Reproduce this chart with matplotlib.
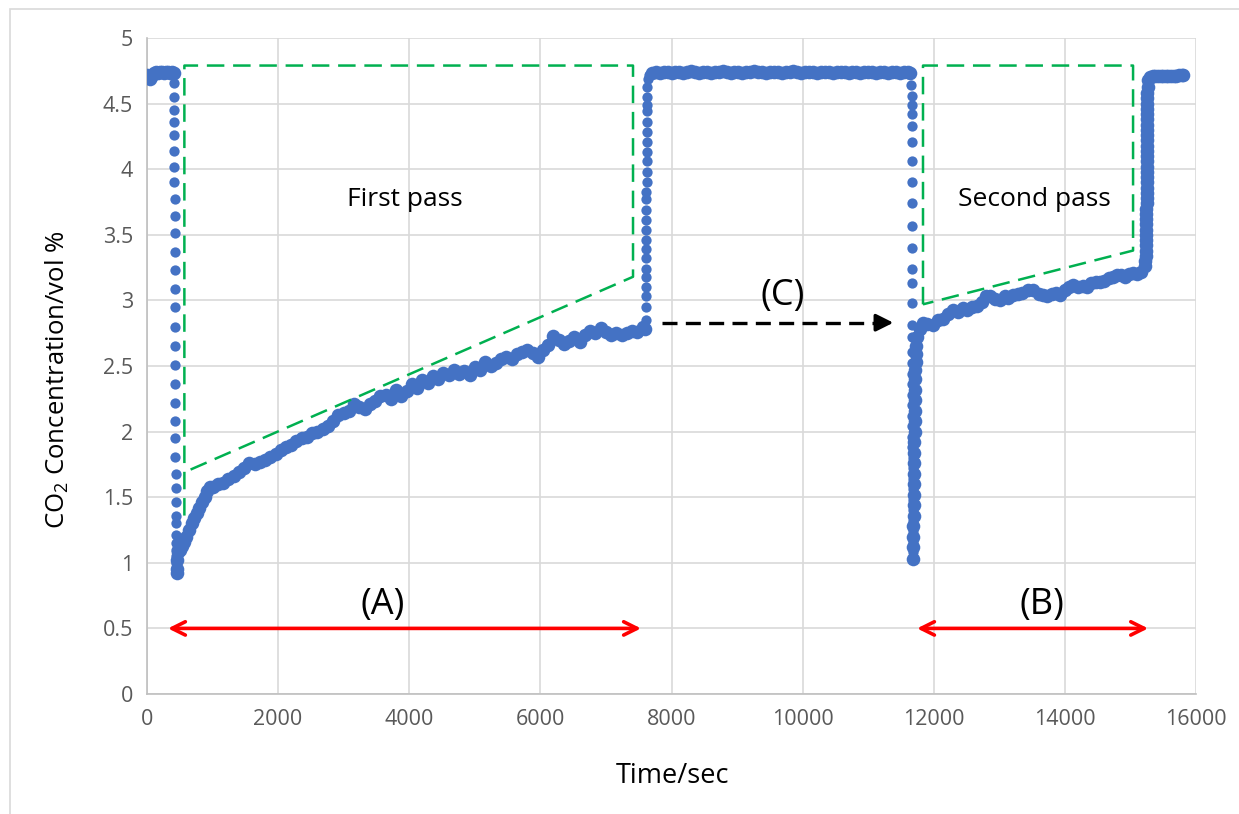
import matplotlib
matplotlib.use("Agg")
import matplotlib.pyplot as plt
from matplotlib.patches import Rectangle

plt.rcParams['font.family'] = ['Open Sans', 'DejaVu Sans']
plt.rcParams['mathtext.fontset'] = 'custom'
plt.rcParams['mathtext.rm'] = 'Open Sans'

# ---- data (time in s, CO2 in vol %) ----
t_start = [0, 20, 40, 60, 80, 110, 140, 170, 200, 230, 260, 290, 320, 350, 380, 405]
c_start = [4.72, 4.70, 4.69, 4.70, 4.72, 4.73, 4.74, 4.73, 4.74, 4.74, 4.73, 4.74, 4.74, 4.73, 4.74, 4.73]

t_drop1 = [412, 413, 414, 415, 416, 417, 418, 419, 420, 421, 422, 423, 424, 425, 426, 427, 428, 429,
           430, 431, 432, 433, 434, 435, 436, 437, 438, 439, 440, 441, 442, 443, 444, 445, 446]
c_drop1 = [4.66, 4.55, 4.45, 4.36, 4.26, 4.14, 4.02, 3.90, 3.77, 3.64, 3.51, 3.37, 3.23, 3.09, 2.95,
           2.80, 2.65, 2.51, 2.36, 2.22, 2.08, 1.95, 1.81, 1.68, 1.57, 1.46, 1.36, 1.30, 1.21, 1.15,
           1.10, 1.05, 1.00, 0.96, 0.93]

t_passA = [450, 455, 465, 480, 500, 530, 560, 600, 640, 680, 720, 760, 800, 840, 880, 920, 960,
           1000, 1080, 1160, 1240, 1320, 1400, 1480, 1560, 1640, 1720, 1800, 1880, 1960, 2040, 2120,
           2200, 2280, 2360, 2440, 2520, 2600, 2680, 2760, 2840, 2920, 3000, 3080, 3160, 3240, 3320,
           3400, 3480, 3560, 3640, 3720, 3800, 3880, 3960, 4040, 4120, 4200, 4280, 4360, 4440, 4520,
           4600, 4680, 4760, 4840, 4920, 5000, 5080, 5160, 5240, 5320, 5400, 5480, 5560, 5640, 5720,
           5800, 5880, 5960, 6040, 6120, 6200, 6280, 6360, 6440, 6520, 6600, 6680, 6760, 6840, 6920,
           7000, 7080, 7160, 7240, 7320, 7400, 7480, 7560, 7600]
c_passA = [0.92, 0.95, 1.02, 1.08, 1.10, 1.13, 1.16, 1.20, 1.25, 1.30, 1.34, 1.38, 1.42, 1.46, 1.50,
           1.55, 1.58, 1.58, 1.60, 1.61, 1.64, 1.66, 1.69, 1.72, 1.76, 1.75, 1.77, 1.78, 1.81, 1.83,
           1.86, 1.88, 1.90, 1.93, 1.95, 1.96, 1.99, 2.00, 2.02, 2.04, 2.08, 2.13, 2.14, 2.16, 2.21,
           2.19, 2.17, 2.21, 2.23, 2.27, 2.28, 2.25, 2.32, 2.27, 2.31, 2.36, 2.33, 2.39, 2.37, 2.42,
           2.40, 2.45, 2.43, 2.47, 2.44, 2.46, 2.43, 2.49, 2.47, 2.53, 2.50, 2.52, 2.55, 2.57, 2.55,
           2.59, 2.61, 2.62, 2.60, 2.57, 2.62, 2.66, 2.73, 2.70, 2.67, 2.69, 2.72, 2.68, 2.74, 2.77,
           2.75, 2.79, 2.76, 2.74, 2.75, 2.74, 2.75, 2.77, 2.76, 2.80, 2.78]

t_rise1 = [7605, 7606, 7607, 7608, 7609, 7610, 7611, 7612, 7613, 7614, 7615, 7616, 7617, 7618, 7619,
           7620, 7621, 7622, 7623, 7624, 7625, 7626, 7627, 7628, 7630, 7640, 7660]
c_rise1 = [2.85, 2.95, 3.03, 3.10, 3.18, 3.24, 3.32, 3.39, 3.46, 3.54, 3.61, 3.69, 3.77, 3.83, 3.90,
           3.98, 4.06, 4.13, 4.21, 4.28, 4.36, 4.44, 4.49, 4.55, 4.63, 4.69, 4.72]

t_flat = [7700, 7760, 7820, 7880, 7940, 8000, 8060, 8120, 8180, 8240, 8300, 8360, 8420, 8480, 8540,
          8600, 8660, 8720, 8780, 8840, 8900, 8960, 9020, 9080, 9140, 9200, 9260, 9320, 9380, 9440,
          9500, 9560, 9620, 9680, 9740, 9800, 9860, 9920, 9980, 10040, 10100, 10160, 10220, 10280,
          10340, 10400, 10460, 10520, 10580, 10640, 10700, 10760, 10820, 10880, 10940, 11000, 11060,
          11120, 11180, 11240, 11300, 11360, 11420, 11480, 11540, 11600, 11640]
c_flat = [4.73, 4.74, 4.73, 4.74, 4.74, 4.73, 4.74, 4.74, 4.73, 4.74, 4.75, 4.74, 4.73, 4.74, 4.74,
          4.73, 4.74, 4.74, 4.75, 4.74, 4.73, 4.74, 4.74, 4.73, 4.74, 4.74, 4.75, 4.74, 4.74, 4.73,
          4.74, 4.74, 4.74, 4.73, 4.74, 4.74, 4.75, 4.74, 4.73, 4.74, 4.74, 4.74, 4.73, 4.74, 4.74,
          4.74, 4.73, 4.74, 4.74, 4.74, 4.73, 4.74, 4.74, 4.73, 4.74, 4.74, 4.74, 4.73, 4.74, 4.74,
          4.73, 4.74, 4.74, 4.73, 4.74, 4.74, 4.73]

t_drop2 = [11660, 11661, 11662, 11663, 11664, 11664, 11665, 11665, 11666, 11666, 11667, 11667, 11668,
           11668, 11669, 11669, 11670, 11671, 11672, 11672, 11673, 11673, 11674, 11674, 11675, 11675,
           11676, 11676, 11677, 11677, 11678, 11678, 11679, 11680, 11681, 11682]
c_drop2 = [4.64, 4.56, 4.49, 4.42, 4.33, 4.21, 4.06, 3.90, 3.74, 3.57, 3.40, 3.24, 3.13, 2.98, 2.81,
           2.72, 2.61, 2.52, 2.44, 2.36, 2.28, 2.20, 2.12, 2.04, 1.96, 1.88, 1.80, 1.72, 1.64, 1.56,
           1.48, 1.40, 1.32, 1.24, 1.16, 1.08]

t_passB = [11684, 11686, 11688, 11690, 11692, 11694, 11696, 11698, 11700, 11702, 11704, 11706, 11708,
           11710, 11712, 11714, 11716, 11718, 11720, 11722, 11726, 11732, 11741, 11790, 11836, 11900,
           11989, 12060, 12141, 12220, 12294, 12370, 12440, 12507, 12580, 12660, 12740, 12800, 12859,
           12930, 13011, 13080, 13140, 13210, 13280, 13350, 13440, 13515, 13600, 13670, 13728, 13800,
           13860, 13926, 14000, 14060, 14125, 14200, 14270, 14338, 14400, 14470, 14537, 14600, 14670,
           14730, 14796, 14860, 14920, 14980, 15040, 15100, 15160, 15223]
c_passB = [1.03, 1.12, 1.20, 1.28, 1.36, 1.44, 1.52, 1.60, 1.68, 1.76, 1.84, 1.92, 2.00, 2.08, 2.16,
           2.24, 2.32, 2.40, 2.47, 2.53, 2.59, 2.65, 2.72, 2.78, 2.83, 2.82, 2.81, 2.85, 2.86, 2.90,
           2.93, 2.91, 2.94, 2.93, 2.95, 2.96, 2.99, 3.03, 3.03, 3.01, 3.00, 3.03, 3.02, 3.04, 3.05,
           3.06, 3.08, 3.08, 3.05, 3.04, 3.03, 3.05, 3.06, 3.04, 3.08, 3.10, 3.12, 3.10, 3.11, 3.10,
           3.13, 3.14, 3.14, 3.15, 3.17, 3.18, 3.19, 3.19, 3.18, 3.20, 3.21, 3.20, 3.22, 3.26]

t_rise2 = [15228, 15230, 15232, 15234, 15236, 15238, 15240, 15241, 15242, 15243, 15244, 15245, 15246,
           15247, 15248, 15249, 15250, 15250, 15251, 15251, 15252, 15252, 15253, 15253, 15254, 15254,
           15255, 15255, 15256, 15256, 15257, 15258, 15260, 15265, 15275]
c_rise2 = [3.30, 3.34, 3.38, 3.42, 3.46, 3.50, 3.54, 3.58, 3.62, 3.66, 3.70, 3.74, 3.78, 3.82, 3.86,
           3.90, 3.94, 3.98, 4.02, 4.06, 4.10, 4.14, 4.18, 4.22, 4.26, 4.30, 4.34, 4.38, 4.42, 4.46,
           4.50, 4.54, 4.58, 4.63, 4.68]

t_end = [15300, 15340, 15380, 15420, 15460, 15500, 15540, 15580, 15620, 15660, 15700, 15740, 15780, 15800]
c_end = [4.70, 4.71, 4.71, 4.71, 4.71, 4.71, 4.71, 4.71, 4.71, 4.71, 4.71, 4.72, 4.72, 4.72]

# hand-drawn guide boxes around the two passes
pass1_x = [570, 570, 7413, 7413, 570]
pass1_y = [1.36, 4.79, 4.79, 3.18, 1.69]
pass2_x = [11836, 11836, 15040, 15040, 11836]
pass2_y = [2.97, 4.79, 4.79, 3.38, 2.97]

fig = plt.figure(figsize=(12.39, 8.14), dpi=100)
fig.patches.append(Rectangle((10/1239, -0.1), 1.2, 1 - 9/814 + 0.1, transform=fig.transFigure,
                             fill=False, edgecolor='#d9d9d9', lw=1.2))
ax = fig.add_axes([147/1239, 1 - 694/814, 1049/1239, 656/814])

blue = '#4472c4'
# sparse (fast) transitions get plain dots, dense logging stretches look like a thick band
for t, c in [(t_drop1, c_drop1), (t_rise1, c_rise1), (t_drop2, c_drop2)]:
    ax.plot(t, c, 'o', color=blue, ms=7.4, mec='none', zorder=3)
for t, c in [(t_start, c_start), (t_passA, c_passA), (t_flat, c_flat), (t_passB, c_passB),
             (t_rise2, c_rise2), (t_end, c_end)]:
    ax.plot(t, c, 'o', color=blue, ms=9.8, mec='none', zorder=3)

green = '#00b050'
ax.plot(pass1_x, pass1_y, color=green, lw=1.8, dashes=(7, 3.5), zorder=4)
ax.plot(pass2_x, pass2_y, color=green, lw=1.8, dashes=(7, 3.5), zorder=4)

# arrows and labels
red = '#ff0000'
for x0, x1 in [(320, 7535), (11745, 15270)]:
    ax.annotate('', xy=(x1, 0.5), xytext=(x0, 0.5),
                arrowprops=dict(arrowstyle='<->', color=red, lw=2.6, mutation_scale=24,
                                shrinkA=0, shrinkB=0))
ax.plot([7851, 11250], [2.83, 2.83], color='black', lw=2.4, dashes=(4.5, 2.5), zorder=4)
ax.annotate('', xy=(11384, 2.83), xytext=(11240, 2.83),
            arrowprops=dict(arrowstyle='-|>', color='black', lw=2.4, mutation_scale=26,
                            shrinkA=0, shrinkB=0))

ax.text(3935, 3.77, 'First pass', fontsize=19, ha='center', va='center')
ax.text(13530, 3.77, 'Second pass', fontsize=19, ha='center', va='center')
ax.text(3600, 0.68, '(A)', fontsize=26, ha='center', va='center')
ax.text(13650, 0.68, '(B)', fontsize=26, ha='center', va='center')
ax.text(9700, 3.03, '(C)', fontsize=26, ha='center', va='center')

ax.set_xlim(0, 16000)
ax.set_ylim(0, 5)
ax.set_xticks(range(0, 16001, 2000))
ax.set_yticks([0, 0.5, 1, 1.5, 2, 2.5, 3, 3.5, 4, 4.5, 5])
ax.set_yticklabels(['0', '0.5', '1', '1.5', '2', '2.5', '3', '3.5', '4', '4.5', '5'])
ax.tick_params(length=0, labelsize=15.5, labelcolor='#595959')
ax.tick_params(axis='x', pad=11)
ax.tick_params(axis='y', pad=10)
ax.grid(True, color='#d9d9d9', lw=1.2)
ax.set_axisbelow(True)
for s in ['top', 'right']:
    ax.spines[s].set_visible(False)
for s in ['left', 'bottom']:
    ax.spines[s].set_color('#bfbfbf')
    ax.spines[s].set_linewidth(1.2)

fig.text(672/1239, 1 - 776/814, 'Time/sec', fontsize=19.5, ha='center', va='center')
fig.text(57/1239, 1 - 380/814, r'CO$_\mathrm{2}$ Concentration/vol %', fontsize=18.5,
         ha='center', va='center', rotation=90)

fig.savefig('out.png', dpi=100)
